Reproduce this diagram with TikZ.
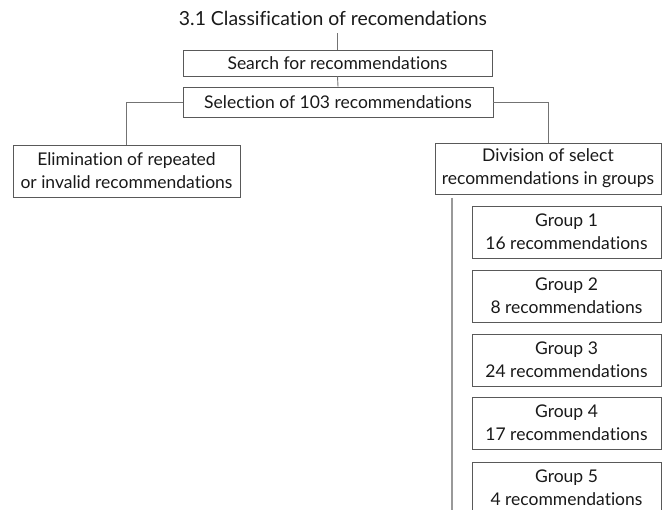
\documentclass[tikz,border=0pt]{standalone}
\usepackage{fontspec}
\setmainfont{Lato}[Ligatures=NoCommon]
\begin{document}
\begin{tikzpicture}[x=1pt,y=-1pt,
  box/.style={draw=black!65, line width=0.9pt, align=center, inner sep=0pt, font=\fontsize{17.5}{23}\selectfont, text=black!90},
  conn/.style={draw=black!55, line width=0.9pt},
  vline/.style={draw=black!40, line width=1.3pt}]
\clip (0,0) rectangle (662,510);
\useasboundingbox (0,0) rectangle (662,510);
\node[font=\fontsize{19.4}{22}\selectfont, text=black!90, inner sep=0pt] (title) at (333,18) {3.1 Classification of recomendations};
\node[box, minimum width=309, minimum height=26] (search) at (337.5,63) {Search for recommendations};
\node[box, minimum width=310, minimum height=30] (select) at (338,102) {Selection of 103 recommendations};
\node[box, minimum width=227, minimum height=52] (elim) at (126.5,171) {Elimination of repeated\\or invalid recommendations};
\node[box, minimum width=226, minimum height=51] (div) at (548,168.5) {Division of select\\recommendations in groups};
\node[box, minimum width=189, minimum height=52] (g1) at (566.5,232) {Group 1\\16 recommendations};
\node[box, minimum width=189, minimum height=52] (g2) at (566.5,296) {Group 2\\8 recommendations};
\node[box, minimum width=189, minimum height=52] (g3) at (566.5,360) {Group 3\\24 recommendations};
\node[box, minimum width=189, minimum height=52] (g4) at (566.5,423) {Group 4\\17 recommendations};
\node[box, minimum width=189, minimum height=52] (g5) at (566.5,488) {Group 5\\4 recommendations};
\draw[conn] (search.north) -- (search.north |- 0,33);
\draw[conn] (search.south) -- (select.north);
\draw[conn] (select.west) -| (elim.north);
\draw[conn] (select.east) -| (div.north);
\coordinate (vtop) at (452,198);
\coordinate (vbot) at (452,512);
\draw[vline] (vtop) -- (vbot);
\end{tikzpicture}
\end{document}
